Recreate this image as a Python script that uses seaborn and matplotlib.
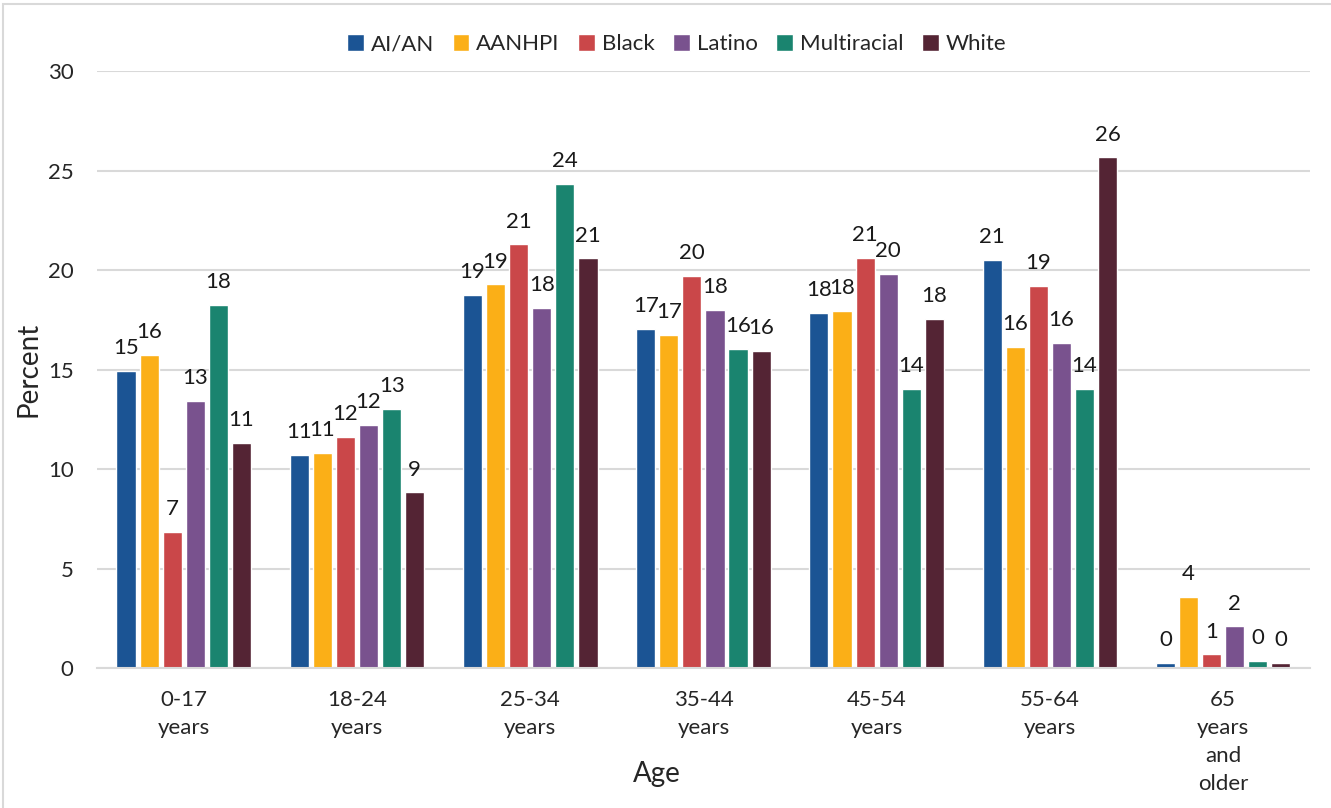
import matplotlib
matplotlib.use("Agg")
import matplotlib.pyplot as plt
from matplotlib.patches import Rectangle
import seaborn as sns
import pandas as pd

# Age groups and share (%) of each race/ethnicity group
age_groups = ["0-17\nyears", "18-24\nyears", "25-34\nyears", "35-44\nyears",
              "45-54\nyears", "55-64\nyears", "65\nyears\nand\nolder"]
races = ["AI/AN", "AANHPI", "Black", "Latino", "Multiracial", "White"]

ai_an       = [14.95, 10.72, 18.77, 17.06, 17.87, 20.53, 0.27]
aanhpi      = [15.75, 10.82, 19.30, 16.76, 17.97, 16.15, 3.60]
black       = [6.85, 11.62, 21.30, 19.73, 20.63, 19.22, 0.70]
latino      = [13.44, 12.22, 18.10, 18.02, 19.83, 16.36, 2.10]
multiracial = [18.27, 13.03, 24.35, 16.05, 14.04, 14.04, 0.37]
white       = [11.32, 8.83, 20.60, 15.95, 17.56, 25.67, 0.27]

colors = ["#1B5494", "#FBAF17", "#CA4749", "#79528E", "#1A846F", "#542434"]

series = [ai_an, aanhpi, black, latino, multiracial, white]
df = pd.DataFrame({
    "Age": [a for _ in races for a in age_groups],
    "Race": [r for r in races for _ in age_groups],
    "Percent": [v for s in series for v in s],
})

sns.set_theme(style="white")
plt.rcParams["font.family"] = ["Lato", "DejaVu Sans"]

fig = plt.figure(figsize=(13.31, 8.08), dpi=100)
ax = fig.add_axes([0.073, 0.173, 0.911, 0.739])

sns.barplot(data=df, x="Age", y="Percent", hue="Race", order=age_groups,
            hue_order=races, palette=colors, width=0.8, gap=0.17,
            saturation=1, errorbar=None, ax=ax)

for cont in ax.containers:
    ax.bar_label(cont, fmt="{:.0f}", padding=9, fontsize=16, color="#1a1a1a")

ax.set_ylim(0, 30)
ax.set_xlim(-0.5, 6.5)
ax.set_yticks([0, 5, 10, 15, 20, 25, 30])
ax.yaxis.grid(True, color="#D9D9D9", linewidth=1.5)
ax.set_axisbelow(True)
for side in ["top", "right", "left"]:
    ax.spines[side].set_visible(False)
ax.spines["bottom"].set_color("#D9D9D9")
ax.spines["bottom"].set_linewidth(1.5)
ax.tick_params(axis="both", length=0, labelsize=16, colors="#262626")
ax.tick_params(axis="y", pad=17)
ax.tick_params(axis="x", pad=16)
for lbl in ax.get_xticklabels():
    lbl.set_linespacing(1.5)
ax.set_xlabel("Age", fontsize=20, color="#262626")
ax.xaxis.set_label_coords(0.462, -0.155)
ax.set_ylabel("Percent", fontsize=20, color="#262626")
ax.yaxis.set_label_coords(-0.046, 0.5)

leg = ax.legend(loc="upper center", bbox_to_anchor=(0.478, 1.095), ncol=6,
                frameon=False, fontsize=16, handlelength=0.75, handleheight=0.75,
                handletextpad=0.3, columnspacing=0.85)

# light frame around the chart area
fig.patches.append(Rectangle((0.0025, -0.01), 1.1, 1.005, transform=fig.transFigure,
                             fill=False, edgecolor="#D9D9D9", linewidth=1.5))

fig.savefig("out.png", dpi=100)
